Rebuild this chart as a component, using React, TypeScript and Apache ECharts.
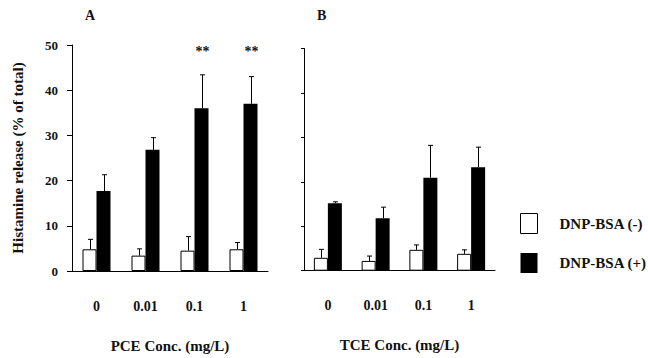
import React, { useEffect, useRef } from "react";
import * as echarts from "echarts";

const CONCENTRATIONS = ["0", "0.01", "0.1", "1"];
const Y_TICKS_MAX = 50;
const Y_TICK_STEP = 10;

// Panel A: PCE
const pceMinus = [4.8, 3.4, 4.5, 4.8];
const pceMinusSD = [2.2, 1.5, 3.1, 1.5];
const pcePlus = [17.7, 26.8, 36.0, 37.0];
const pcePlusSD = [3.6, 2.7, 7.4, 6.0];
const pceStars = ["", "", "**", "**"];

// Panel B: TCE
const tceMinus = [2.9, 2.2, 4.7, 3.8];
const tceMinusSD = [1.9, 1.1, 1.1, 0.9];
const tcePlus = [15.2, 11.8, 20.9, 23.3];
const tcePlusSD = [0.3, 2.5, 7.3, 4.5];
const tceStars = ["", "", "", ""];

const STAR_LEVEL = 48.5;
const SERIES_MINUS = "DNP-BSA (-)";
const SERIES_PLUS = "DNP-BSA (+)";

const FONT = "Liberation Serif";
const BAR_W = 14;

function errorSeries(means: number[], sds: number[], offset: number, axis: number, stars: string[]) {
  return {
    type: "custom",
    name: "err" + axis + offset,
    xAxisIndex: axis,
    yAxisIndex: axis,
    z: 5,
    silent: true,
    data: means.map((m, i) => [i, m, sds[i]]),
    encode: { x: 0, y: 1 },
    renderItem: (params: any, api: any) => {
      const x = api.value(0);
      const m = api.value(1);
      const s = api.value(2);
      const base = api.coord([x, m]);
      const top = api.coord([x, m + s]);
      const cx = Math.round(base[0] + offset) + 0.5;
      const children: any[] = [
        {
          type: "line",
          shape: { x1: cx, y1: base[1], x2: cx, y2: top[1] },
          style: { stroke: "#000", lineWidth: 1 },
        },
        {
          type: "line",
          shape: { x1: cx - 2.5, y1: top[1], x2: cx + 2.5, y2: top[1] },
          style: { stroke: "#000", lineWidth: 1 },
        },
      ];
      const star = stars[params.dataIndex];
      if (star) {
        const sp = api.coord([x, STAR_LEVEL]);
        children.push({
          type: "text",
          x: cx,
          y: sp[1],
          style: {
            text: star,
            fill: "#111",
            font: `bold 14px "${FONT}"`,
            align: "center",
            verticalAlign: "middle",
          },
        });
      }
      return { type: "group", children };
    },
  };
}

export default function App() {
  const ref = useRef<HTMLDivElement>(null);
  useEffect(() => {
    if (!ref.current) return;
    const chart = echarts.init(ref.current, null, { renderer: "svg" });
    const axisLine = { show: true, lineStyle: { color: "#000", width: 1 } };
    const xAxisCommon = {
      type: "category",
      data: CONCENTRATIONS,
      axisLine,
      axisTick: { show: false },
      axisLabel: { color: "#111", fontFamily: FONT, fontWeight: "bold", fontSize: 14, margin: 28 },
      nameLocation: "middle",
      nameGap: 67,
      nameTextStyle: { color: "#111", fontFamily: FONT, fontWeight: "bold", fontSize: 15 },
    };
    const whiteStyle = { color: "#fff", borderColor: "#000", borderWidth: 1 };
    const blackStyle = { color: "#000" };
    chart.setOption({
      animation: false,
      backgroundColor: "#fff",
      title: [
        { text: "A", left: 85, top: 8, padding: 0, textStyle: { fontFamily: FONT, fontWeight: "bold", fontSize: 14, color: "#111" } },
        { text: "B", left: 317, top: 8, padding: 0, textStyle: { fontFamily: FONT, fontWeight: "bold", fontSize: 14, color: "#111" } },
      ],
      legend: {
        orient: "vertical",
        left: 520,
        top: 213,
        itemWidth: 17,
        itemHeight: 20,
        itemGap: 19,
        icon: "rect",
        padding: 0,
        textStyle: { color: "#111", fontFamily: FONT, fontWeight: "bold", fontSize: 15, padding: [0, 0, 0, 17] },
        data: [
          { name: SERIES_MINUS, itemStyle: whiteStyle },
          { name: SERIES_PLUS, itemStyle: blackStyle },
        ],
      },
      grid: [
        { left: 72, top: 45, width: 196, height: 227.7 },
        { left: 304, top: 48.5, width: 191, height: 222.2 },
      ],
      xAxis: [
        { ...xAxisCommon, gridIndex: 0, name: "PCE Conc. (mg/L)" },
        { ...xAxisCommon, gridIndex: 1, name: "TCE Conc. (mg/L)" },
      ],
      yAxis: [
        {
          type: "value",
          gridIndex: 0,
          min: 0,
          max: Y_TICKS_MAX,
          interval: Y_TICK_STEP,
          axisLine,
          axisTick: { show: true, length: 5, lineStyle: { color: "#000" } },
          splitLine: { show: false },
          axisLabel: { color: "#111", fontFamily: FONT, fontWeight: "bold", fontSize: 13, margin: 14 },
          name: "Histamine release (% of total)",
          nameLocation: "middle",
          nameGap: 47,
          nameTextStyle: { color: "#111", fontFamily: FONT, fontWeight: "bold", fontSize: 15 },
        },
        {
          type: "value",
          gridIndex: 1,
          min: 0,
          max: Y_TICKS_MAX,
          interval: Y_TICK_STEP,
          axisLine,
          axisTick: { show: true, length: 3, lineStyle: { color: "#000" } },
          splitLine: { show: false },
          axisLabel: { show: false },
        },
      ],
      series: [
        { type: "bar", name: SERIES_MINUS, xAxisIndex: 0, yAxisIndex: 0, data: pceMinus, barWidth: BAR_W, barGap: "0%", itemStyle: whiteStyle },
        { type: "bar", name: SERIES_PLUS, xAxisIndex: 0, yAxisIndex: 0, data: pcePlus, barWidth: BAR_W, barGap: "0%", itemStyle: blackStyle },
        { type: "bar", name: SERIES_MINUS, xAxisIndex: 1, yAxisIndex: 1, data: tceMinus, barWidth: BAR_W, barGap: "0%", itemStyle: whiteStyle },
        { type: "bar", name: SERIES_PLUS, xAxisIndex: 1, yAxisIndex: 1, data: tcePlus, barWidth: BAR_W, barGap: "0%", itemStyle: blackStyle },
        errorSeries(pceMinus, pceMinusSD, -BAR_W / 2, 0, ["", "", "", ""]),
        errorSeries(pcePlus, pcePlusSD, BAR_W / 2, 0, pceStars),
        errorSeries(tceMinus, tceMinusSD, -BAR_W / 2, 1, ["", "", "", ""]),
        errorSeries(tcePlus, tcePlusSD, BAR_W / 2, 1, tceStars),
      ],
    });
    return () => chart.dispose();
  }, []);
  return (
    <div
      ref={ref}
      style={{ position: "absolute", left: 0, top: 0, width: 648, height: 358 }}
    />
  );
}
